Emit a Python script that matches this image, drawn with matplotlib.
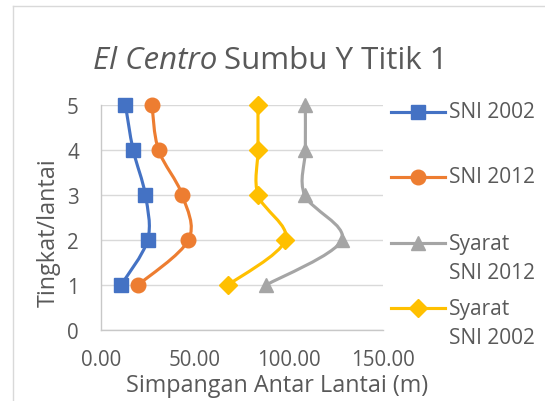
import matplotlib
matplotlib.use("Agg")
import matplotlib.pyplot as plt
from matplotlib.path import Path
from matplotlib.patches import PathPatch
from matplotlib.lines import Line2D
import numpy as np

# ---- data ----
levels = [1, 2, 3, 4, 5]
sni2002 = [10.7, 24.8, 23.6, 17.1, 13.0]
sni2012 = [19.7, 46.5, 43.2, 30.6, 27.1]
syarat2012 = [87.9, 128.0, 108.3, 108.7, 108.7]
syarat2002 = [67.6, 98.1, 83.5, 83.5, 83.5]

series_names = ["SNI 2002", "SNI 2012", "Syarat\nSNI 2012", "Syarat\nSNI 2002"]
series_vals = [sni2002, sni2012, syarat2012, syarat2002]
colors = ["#4472C4", "#ED7D31", "#A5A5A5", "#FFC000"]
markers = ["s", "o", "^", "D"]
msizes = [10, 10.5, 10.5, 9]

xticks = [0, 50, 100, 150]
xtick_labels = ["0.00", "50.00", "100.00", "150.00"]
yticks = [0, 1, 2, 3, 4, 5]

W, H = 545, 402
FONT = "Open Sans"
TXT = "#595959"
FS = 14.8
FS_AX = 16.8
FS_LEG = 15.0

fig = plt.figure(figsize=(W / 100, H / 100), dpi=100)
L, R, T, B = 101, 383, 106, 331
ax = fig.add_axes([L / W, 1 - B / H, (R - L) / W, (B - T) / H])
ax.set_xlim(0, 150)
ax.set_ylim(0, 5)


def smooth_path(xs, ys):
    P = np.column_stack([xs, ys]).astype(float)
    n = len(P)
    verts = [P[0]]
    codes = [Path.MOVETO]
    for i in range(n - 1):
        p0 = P[i - 1] if i > 0 else P[i]
        p1 = P[i]
        p2 = P[i + 1]
        p3 = P[i + 2] if i + 2 < n else P[i + 1]
        c1 = p1 + (p2 - p0) / 6.0
        c2 = p2 - (p3 - p1) / 6.0
        verts += [c1, c2, p2]
        codes += [Path.CURVE4] * 3
    return Path(verts, codes)


for vals, c, m, ms in zip(series_vals, colors, markers, msizes):
    patch = PathPatch(smooth_path(vals, levels), fill=False, edgecolor=c,
                      lw=2.25, capstyle="round", joinstyle="round", zorder=3)
    ax.add_patch(patch)
    ax.plot(vals, levels, linestyle="none", marker=m, markersize=ms,
            color=c, markeredgecolor=c, zorder=4, clip_on=False)

ax.set_xticks(xticks)
ax.set_xticklabels(xtick_labels)
ax.set_yticks(yticks)
ax.grid(axis="y", color="#D9D9D9", lw=1)
ax.set_axisbelow(True)
for s in ["top", "right"]:
    ax.spines[s].set_visible(False)
for s in ["left", "bottom"]:
    ax.spines[s].set_color("#C8C8C8")
    ax.spines[s].set_linewidth(1)
ax.tick_params(length=0, labelsize=FS, colors=TXT)
ax.tick_params(axis="y", pad=16)
ax.tick_params(axis="x", pad=14)
for lab in ax.get_xticklabels() + ax.get_yticklabels():
    lab.set_fontfamily(FONT)


def fx(px):
    return px / W


def fy(py):
    return 1 - py / H


# title
t1 = fig.text(fx(93), fy(61), "El Centro", fontsize=22.5, fontstyle="italic",
              color=TXT, family=FONT, va="center", ha="left")
fig.canvas.draw()
bb = t1.get_window_extent()
fig.text(bb.x1 / W + 7 / W, fy(61), "Sumbu Y Titik 1", fontsize=22.5,
         color=TXT, family=FONT, va="center", ha="left")

# axis titles
fig.text(fx(277), fy(386), "Simpangan Antar Lantai (m)", fontsize=FS_AX,
         color=TXT, family=FONT, ha="center", va="center")
fig.text(fx(49), fy(233), "Tingkat/lantai", fontsize=FS_AX, color=TXT,
         family=FONT, ha="center", va="center", rotation=90)

# legend (manual)
leg_y = [113, 178, 244, 309]
for name, c, m, ms, y in zip(series_names, colors, markers, msizes, leg_y):
    fig.add_artist(Line2D([fx(391), fx(445)], [fy(y), fy(y)], color=c, lw=2.25,
                          transform=fig.transFigure))
    fig.add_artist(Line2D([fx(418)], [fy(y)], color=c, marker=m, markersize=ms,
                          linestyle="none", transform=fig.transFigure))
    lines = name.split("\n")
    for k, ln in enumerate(lines):
        fig.text(fx(449), fy(y + k * 29 + (0 if len(lines) == 1 else 1)), ln,
                 fontsize=FS_LEG, color=TXT, family=FONT, ha="left", va="center")

# chart border (left/top visible)
fig.add_artist(Line2D([fx(13), fx(13)], [fy(7), fy(402)], color="#D9D9D9",
                      lw=1, transform=fig.transFigure))
fig.add_artist(Line2D([fx(13), fx(545)], [fy(7), fy(7)], color="#D9D9D9",
                      lw=1, transform=fig.transFigure))

fig.savefig("out.png", dpi=100)
